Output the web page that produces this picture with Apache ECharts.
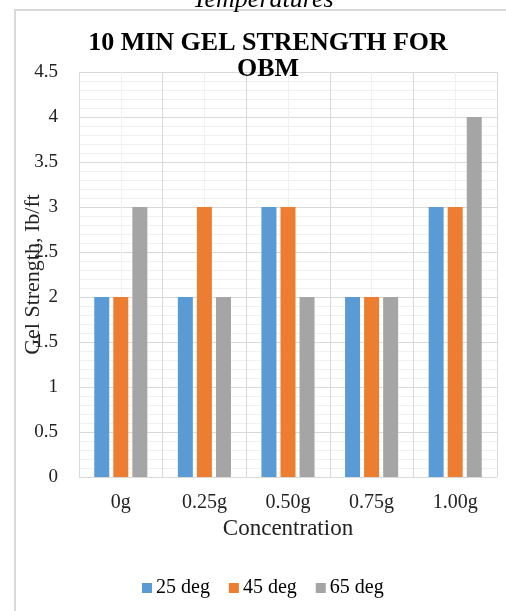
<!DOCTYPE html>
<html>
<head>
<meta charset="utf-8">
<script src="https://cdn.jsdelivr.net/npm/echarts@6/dist/echarts.min.js"></script>
<style>
html, body { margin: 0; padding: 0; background: #fff; }
#chart { width: 506px; height: 611px; }
</style>
</head>
<body>
<div id="chart"></div>
<script>
var categories = ['0g', '0.25g', '0.50g', '0.75g', '1.00g'];
var deg25 = [2, 2, 3, 2, 3];
var deg45 = [2, 3, 3, 2, 3];
var deg65 = [3, 2, 2, 2, 4];
var seriesNames = ['25 deg', '45 deg', '65 deg'];
var colors = ['#5b9bd5', '#ed7d31', '#a5a5a5'];

var FONT = '"Liberation Serif", "DejaVu Serif", serif';

// half-category slots, only used for the light vertical grid lines
var halfSlots = [];
for (var i = 0; i < categories.length * 2; i++) halfSlots.push('');

var chart = echarts.init(document.getElementById('chart'));

var values = [deg25, deg45, deg65];
var series = [];
for (var k = 0; k < values.length; k++) {
	series.push({
		name: seriesNames[k],
		type: 'bar',
		xAxisIndex: 0,
		data: values[k],
		barWidth: 15,
		barGap: '27%',
		itemStyle: { color: colors[k] }
	});
}

var option = {
	animation: false,
	textStyle: { fontFamily: FONT },
	graphic: [
		{
			type: 'rect',
			shape: { x: 15, y: 10, width: 600, height: 700 },
			style: { fill: 'none', stroke: '#d9d9d9', lineWidth: 2 },
			z: -1
		},
		{
			type: 'text',
			x: 263,
			y: -13,
			style: {
				text: 'Temperatures',
				fill: '#000',
				font: 'italic 26px ' + FONT,
				textAlign: 'center'
			}
		}
	],
	title: {
		text: '10 MIN GEL STRENGTH FOR\nOBM',
		left: 263,
		top: 25,
		textAlign: 'center',
		textStyle: {
			fontFamily: FONT,
			fontSize: 26,
			fontWeight: 'bold',
			color: '#000',
			lineHeight: 26
		}
	},
	legend: {
		data: seriesNames,
		left: 137,
		top: 573,
		icon: 'rect',
		itemWidth: 10,
		itemHeight: 10,
		itemGap: 19,
		textStyle: { fontFamily: FONT, fontSize: 20, color: '#000', padding: [0, 0, 0, -1] }
	},
	grid: { left: 79, right: 9, top: 72, bottom: 134, outerBoundsMode: 'none' },
	xAxis: [
		{
			type: 'category',
			data: categories,
			axisLine: { lineStyle: { color: '#d9d9d9' } },
			axisTick: { show: false },
			axisLabel: { fontFamily: FONT, fontSize: 20, color: '#222', margin: 16 },
			splitLine: { show: true, lineStyle: { color: '#d9d9d9' } },
			name: 'Concentration',
			nameLocation: 'middle',
			nameGap: 40,
			nameMoveOverlap: false,
			nameTextStyle: { fontFamily: FONT, fontSize: 23, color: '#222' },
			z: 3
		},
		{
			type: 'category',
			data: halfSlots,
			position: 'bottom',
			axisLine: { show: false },
			axisTick: { show: false },
			axisLabel: { show: false },
			splitLine: { show: true, lineStyle: { color: '#f0f0f0' } },
			z: 1
		}
	],
	yAxis: {
		type: 'value',
		min: 0,
		max: 4.5,
		interval: 0.5,
		axisLine: { show: false },
		axisTick: { show: false },
		axisLabel: { fontFamily: FONT, fontSize: 19, color: '#222', margin: 21 },
		splitLine: { lineStyle: { color: '#d9d9d9' } },
		minorTick: { show: false, splitNumber: 5 },
		minorSplitLine: { show: true, lineStyle: { color: '#f0f0f0' } },
		name: 'Gel Strength, Ib/ft',
		nameLocation: 'middle',
		nameGap: 35,
		nameMoveOverlap: false,
		nameTextStyle: { fontFamily: FONT, fontSize: 22, color: '#222' }
	},
	series: series
};

chart.setOption(option);
</script>
</body>
</html>
